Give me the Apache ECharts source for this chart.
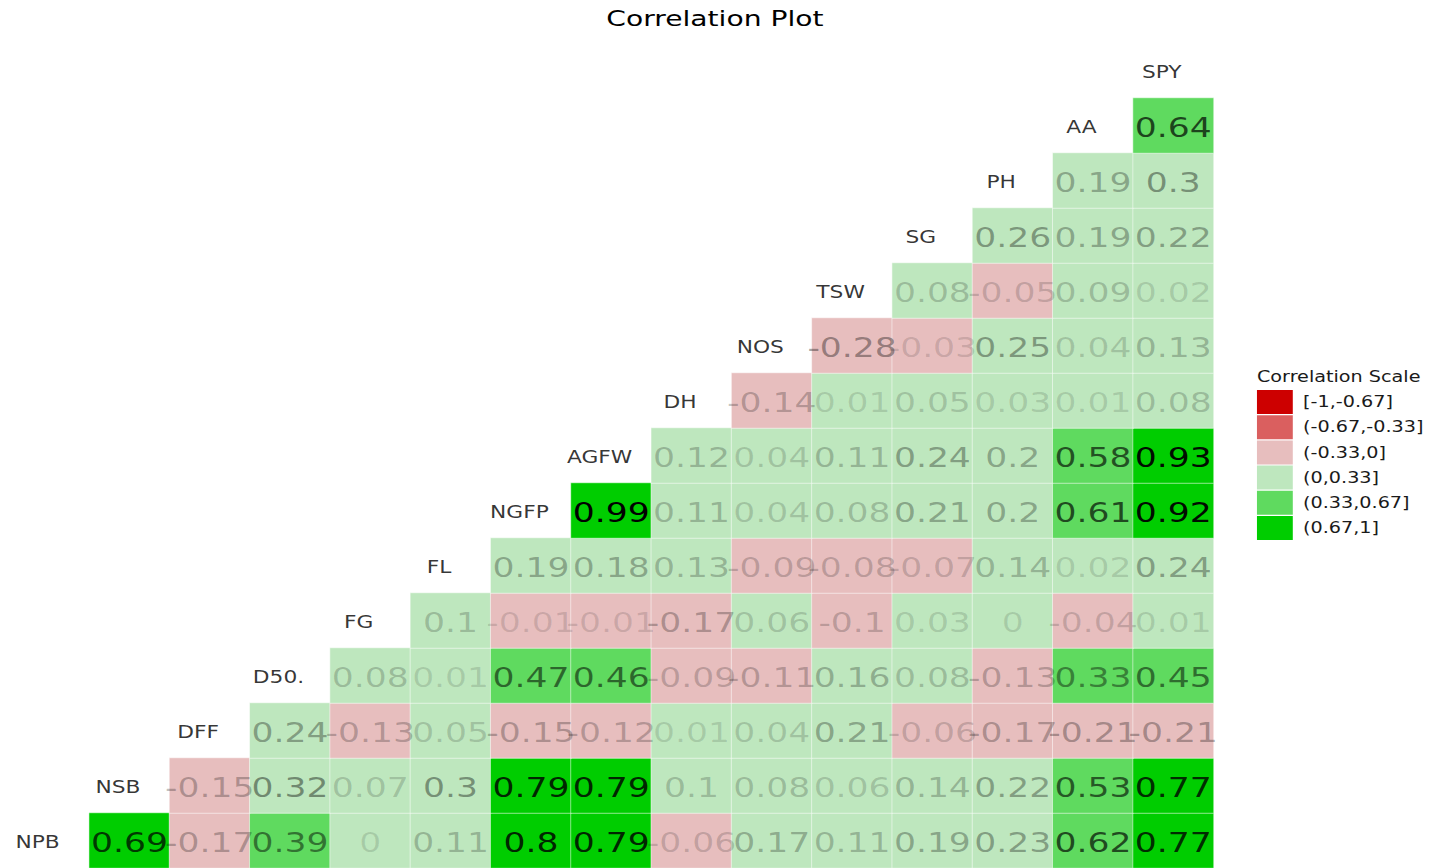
<!DOCTYPE html>
<html>
<head>
<meta charset="utf-8">
<script src="https://cdn.jsdelivr.net/npm/echarts@6/dist/echarts.min.js"></script>
<style>
html, body { margin:0; padding:0; background:#fff; overflow:hidden; }
/* the reference picture is stretched sideways (~1.28x), so draw narrower and scale it */
#main { width:1117px; height:868px; transform:scaleX(1.28); transform-origin:0 0; }
</style>
</head>
<body>
<div id="main"></div>
<script>
var vars = ['NPB', 'NSB', 'DFF', 'D50.', 'FG', 'FL', 'NGFP', 'AGFW', 'DH', 'NOS', 'TSW', 'SG', 'PH', 'AA', 'SPY'];

// correlation of each variable with every variable after it in vars
var NPB  = [0.69, -0.17, 0.39, 0.004, 0.11, 0.8, 0.79, -0.06, 0.17, 0.11, 0.19, 0.23, 0.62, 0.77];
var NSB  = [-0.15, 0.32, 0.07, 0.3, 0.79, 0.79, 0.1, 0.08, 0.06, 0.14, 0.22, 0.53, 0.77];
var DFF  = [0.24, -0.13, 0.05, -0.15, -0.12, 0.01, 0.04, 0.21, -0.06, -0.17, -0.21, -0.21];
var D50  = [0.08, 0.01, 0.47, 0.46, -0.09, -0.11, 0.16, 0.08, -0.13, 0.334, 0.45];
var FG   = [0.1, -0.01, -0.01, -0.17, 0.06, -0.1, 0.03, 0.004, -0.04, 0.01];
var FL   = [0.19, 0.18, 0.13, -0.09, -0.08, -0.07, 0.14, 0.02, 0.24];
var NGFP = [0.99, 0.11, 0.04, 0.08, 0.21, 0.2, 0.61, 0.92];
var AGFW = [0.12, 0.04, 0.11, 0.24, 0.2, 0.58, 0.93];
var DH   = [-0.14, 0.01, 0.05, 0.03, 0.01, 0.08];
var NOS  = [-0.28, -0.03, 0.25, 0.04, 0.13];
var TSW  = [0.08, -0.05, 0.09, 0.02];
var SG   = [0.26, 0.19, 0.22];
var PH   = [0.19, 0.3];
var AA   = [0.64];

var rows = [NPB, NSB, DFF, D50, FG, FL, NGFP, AGFW, DH, NOS, TSW, SG, PH, AA];

var scaleLabels = ['[-1,-0.67]', '(-0.67,-0.33]', '(-0.33,0]', '(0,0.33]', '(0.33,0.67]', '(0.67,1]'];
var scaleColors = ['#CD0000', '#DA5F5F', '#E7BEBE', '#BEE7BE', '#5FDA5F', '#00CD00'];

// label alpha follows |r|, like ggcorr label_alpha
var maxAbs = 0;
rows.forEach(function (row) { row.forEach(function (v) { maxAbs = Math.max(maxAbs, Math.abs(v)); }); });
function textAlpha(v) { return (0.12 + 0.88 * Math.abs(v) / maxAbs).toFixed(3); }

var cells = [];
rows.forEach(function (row, r) {
    row.forEach(function (v, k) {
        cells.push({
            value: [r + 1 + k, r, v],
            label: { color: 'rgba(0,0,0,' + textAlpha(v) + ')' }
        });
    });
});

var names = vars.map(function (n, i) { return [i, i]; });

var myChart = echarts.init(document.getElementById('main'), null, { renderer: 'svg' });
var option = {
    animation: false,
    textStyle: { fontFamily: 'DejaVu Sans' },
    title: [
        {
            text: 'Correlation Plot',
            left: 'center',
            top: 3,
            textStyle: { fontSize: 22, fontWeight: 'normal', color: '#000', fontFamily: 'DejaVu Sans' }
        },
        {
            text: 'Correlation Scale',
            left: 982,
            top: 369,
            padding: 0,
            textStyle: { fontSize: 15, fontWeight: 'normal', color: '#1a1a1a', fontFamily: 'DejaVu Sans' }
        }
    ],
    grid: { left: 7, right: 169, top: 43, bottom: -4 },
    xAxis: { type: 'category', data: vars, show: false },
    yAxis: { type: 'category', data: vars, show: false },
    visualMap: {
        type: 'piecewise',
        seriesIndex: 0,
        dimension: 2,
        orient: 'vertical',
        inverse: true,
        align: 'left',
        left: 982,
        top: 390,
        padding: 0,
        itemWidth: 28,
        itemHeight: 24,
        itemGap: 1.2,
        itemSymbol: 'rect',
        textGap: 8,
        textStyle: { fontSize: 15, color: '#1a1a1a', fontFamily: 'DejaVu Sans' },
        pieces: [
            { gte: -1, lte: -0.67, label: scaleLabels[0], color: scaleColors[0] },
            { gt: -0.67, lte: -0.33, label: scaleLabels[1], color: scaleColors[1] },
            { gt: -0.33, lte: 0, label: scaleLabels[2], color: scaleColors[2] },
            { gt: 0, lte: 0.33, label: scaleLabels[3], color: scaleColors[3] },
            { gt: 0.33, lte: 0.67, label: scaleLabels[4], color: scaleColors[4] },
            { gt: 0.67, lte: 1, label: scaleLabels[5], color: scaleColors[5] }
        ]
    },
    series: [
        {
            type: 'heatmap',
            data: cells,
            itemStyle: { borderColor: 'rgba(255,255,255,0.75)', borderWidth: 0.6 },
            emphasis: { disabled: true },
            label: {
                show: true,
                fontSize: 27,
                offset: [0, 2],
                fontFamily: 'DejaVu Sans',
                formatter: function (p) { return String(Math.round(p.value[2] * 100) / 100); }
            }
        },
        {
            type: 'scatter',
            data: names,
            symbolSize: 1,
            itemStyle: { color: 'rgba(0,0,0,0)' },
            emphasis: { disabled: true },
            label: {
                show: true,
                position: 'inside',
                offset: [-9, 2],
                fontSize: 17,
                color: '#000',
                fontFamily: 'DejaVu Sans',
                formatter: function (p) { return vars[p.dataIndex]; }
            }
        }
    ]
};
myChart.setOption(option);
</script>
</body>
</html>
